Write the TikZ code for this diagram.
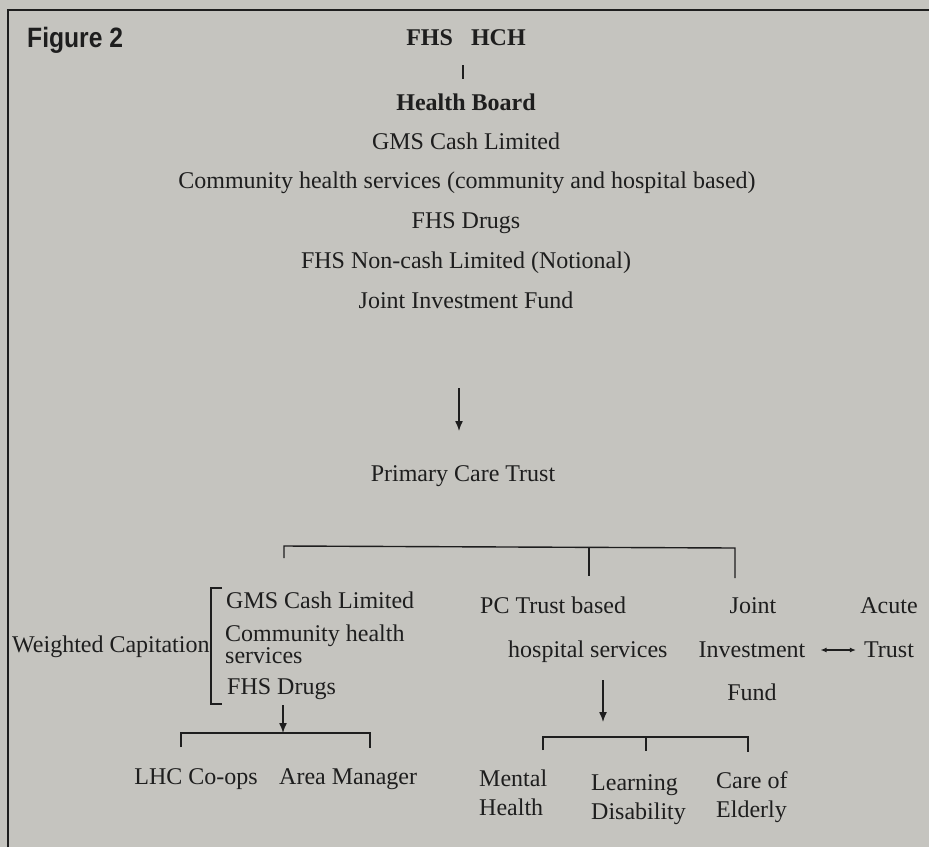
\documentclass[tikz,border=0pt]{standalone}
\usepackage{fontspec}
\setmainfont{Liberation Serif}
\newfontfamily\figfont[FakeStretch=0.88]{Liberation Sans}
\usetikzlibrary{arrows.meta}
\definecolor{paper}{HTML}{C5C4BF}
\definecolor{ink}{HTML}{1E1E1E}
\begin{document}
\begin{tikzpicture}[x=1pt,y=-1pt,
  txt/.style={inner sep=0pt, text=ink, font=\fontsize{24}{28}\selectfont},
  btxt/.style={txt, font=\fontsize{24}{28}\selectfont\bfseries},
  line/.style={draw=ink, line width=1.4pt},
  arr/.style={line, -{Latex[length=10pt,width=8pt]}},
  darr/.style={draw=ink, line width=1.2pt, {Latex[length=6pt,width=5pt]}-{Latex[length=6pt,width=5pt]}}]
\fill[paper] (0,0) rectangle (929,847);
\useasboundingbox (0,0) rectangle (929,847);
\draw[ink, line width=2.2pt] (8,847) -- (8,10) -- (929,10);

% title
\node[inner sep=0pt, text=ink, anchor=base west, font=\fontsize{28}{30}\figfont\bfseries] (fig) at (27,47) {Figure 2};
\node[btxt, anchor=base] (fhs) at (466,45) {FHS\hspace{0.75em}HCH};
\coordinate (t1) at (463,65);
\coordinate (t2) at (463,79);
\draw[line] (t1) -- (t2);

% health board list
\node[btxt, anchor=base] (hb) at (466,110) {Health Board};
\node[txt, anchor=base] (gms) at (466,149) {GMS Cash Limited};
\node[txt, anchor=base] (chs) at (467,188) {Community health services (community and hospital based)};
\node[txt, anchor=base] (drugs) at (466,228) {FHS Drugs};
\node[txt, anchor=base] (noncash) at (466,268) {FHS Non-cash Limited (Notional)};
\node[txt, anchor=base] (jif) at (466,308) {Joint Investment Fund};
\coordinate (a1s) at (459,388);
\coordinate (a1e) at (459,431);
\draw[arr] (a1s) -- (a1e);
\node[txt, anchor=base] (pct) at (463,481) {Primary Care Trust};

% top bracket
\coordinate (b1) at (284,558);
\coordinate (b1t) at (284,546);
\coordinate (b2) at (589,576);
\coordinate (b2t) at (589,547);
\coordinate (b3) at (735,578);
\coordinate (b3t) at (735,548);
\draw[line] (b1) -- (b1t) -- (b3t) -- (b3);
\draw[line] (b2t) -- (b2);

% left group
\node[txt, anchor=base west] (wc) at (12,652) {Weighted Capitation};
\coordinate (lb1) at (222,588);
\coordinate (lb2) at (211,588);
\coordinate (lb3) at (211,704);
\coordinate (lb4) at (222,704);
\draw[line] (lb1) -- (lb2) -- (lb3) -- (lb4);
\node[txt, anchor=base west] (lgms) at (226,608) {GMS Cash Limited};
\node[txt, anchor=base west] (lchs1) at (225,641) {Community health};
\node[txt, anchor=base west] (lchs2) at (225,663) {services};
\node[txt, anchor=base west] (ldrugs) at (227,694) {FHS Drugs};
\coordinate (a2s) at (283,705);
\coordinate (a2e) at (283,733);
\draw[arr] (a2s) -- (a2e);
\coordinate (c1) at (181,747);
\coordinate (c1t) at (181,733);
\coordinate (c2) at (370,748);
\coordinate (c2t) at (370,733);
\draw[line] (c1) -- (c1t) -- (c2t) -- (c2);
\node[txt, anchor=base east] (lhc) at (258,784) {LHC Co-ops};
\node[txt, anchor=base west] (am) at (279,784) {Area Manager};

% middle group
\node[txt, anchor=base west] (pc1) at (480,613) {PC Trust based};
\node[txt, anchor=base west] (pc2) at (508,657) {hospital services};
\coordinate (a3s) at (603,680);
\coordinate (a3e) at (603,722);
\draw[arr] (a3s) -- (a3e);
\coordinate (d1) at (543,750);
\coordinate (d1t) at (543,737);
\coordinate (d2) at (646,751);
\coordinate (d2t) at (646,737);
\coordinate (d3) at (748,752);
\coordinate (d3t) at (748,737);
\draw[line] (d1) -- (d1t) -- (d3t) -- (d3);
\draw[line] (d2t) -- (d2);
\node[txt, anchor=base west] (mh1) at (479,786) {Mental};
\node[txt, anchor=base west] (mh2) at (479,815) {Health};
\node[txt, anchor=base west] (ld1) at (591,790) {Learning};
\node[txt, anchor=base west] (ld2) at (591,819) {Disability};
\node[txt, anchor=base west] (ce1) at (716,788) {Care of};
\node[txt, anchor=base west] (ce2) at (716,817) {Elderly};

% right group
\node[txt, anchor=base] (j1) at (753,613) {Joint};
\node[txt, anchor=base] (j2) at (752,657) {Investment};
\node[txt, anchor=base] (j3) at (752,700) {Fund};
\node[txt, anchor=base] (ac1) at (889,613) {Acute};
\node[txt, anchor=base] (ac2) at (889,657) {Trust};
\draw[darr] ([xshift=15pt,yshift=7pt]j2.base east) -- ([xshift=-8pt,yshift=7pt]ac2.base west);
\end{tikzpicture}
\end{document}
